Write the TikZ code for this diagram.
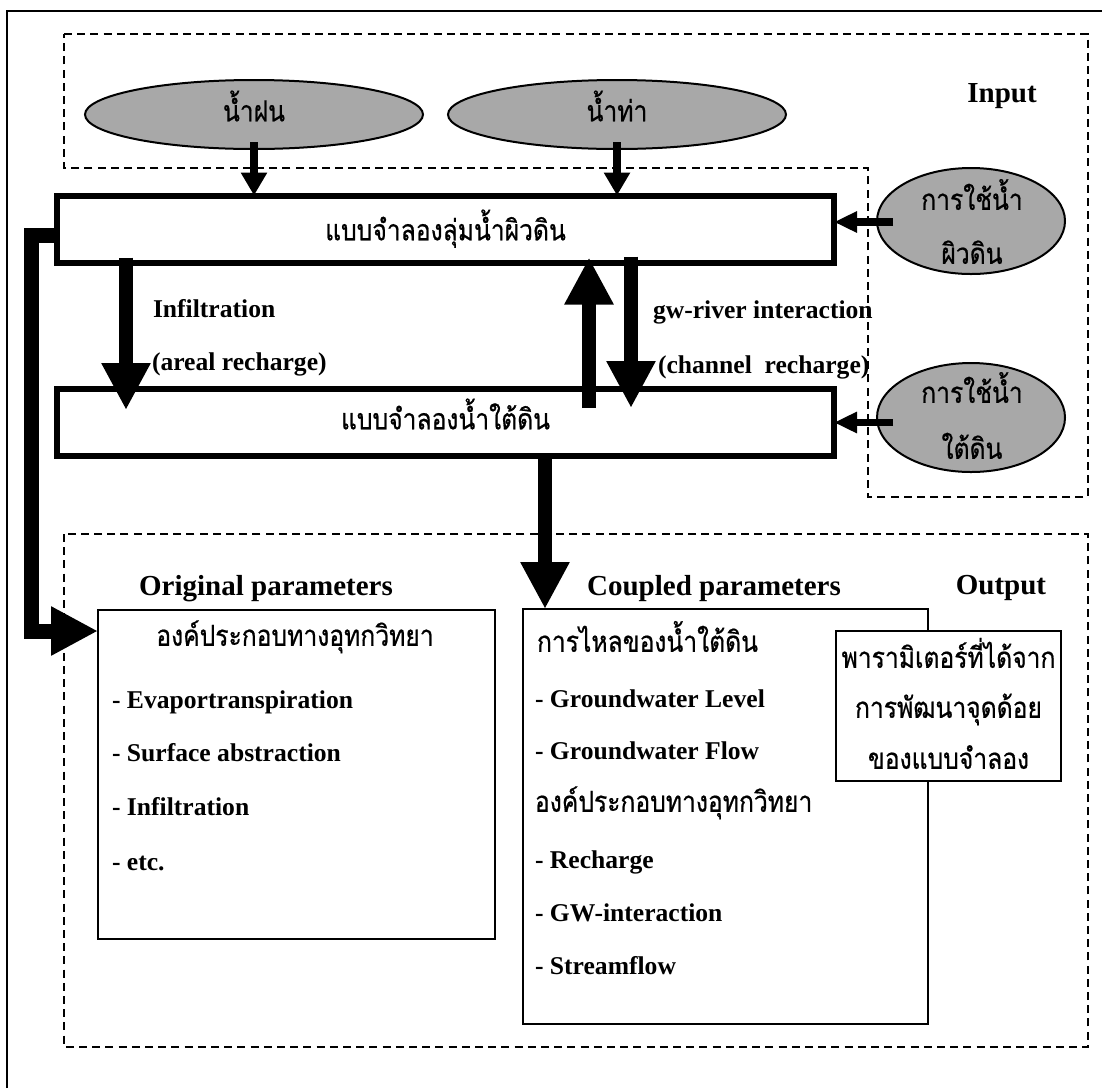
\documentclass[tikz,border=0pt]{standalone}
\usepackage{fontspec}
\setmainfont{Liberation Serif}
\newfontfamily\thaifont[Script=Thai,FakeStretch=0.85,FakeBold=0.6]{Loma}
\usetikzlibrary{arrows.meta,shapes.geometric,calc}
\definecolor{inputgray}{gray}{0.66}

\begin{document}
\begin{tikzpicture}[x=0.5pt,y=-0.5pt,
  every node/.style={inner sep=0pt,outer sep=0pt},
  region/.style={draw,line width=1pt,dash pattern=on 4pt off 2.6pt},
  source/.style={ellipse,draw,line width=1pt,fill=inputgray},
  modelbox/.style={draw,line width=3pt,minimum width=388.5pt,minimum height=33.5pt},
  parbox/.style={draw,line width=1pt},
  heading/.style={font=\fontsize{14.5}{17}\selectfont\bfseries,text height=9.6pt,text depth=0pt},
  item/.style={font=\fontsize{12.8}{15}\selectfont\bfseries,text height=8.5pt,text depth=0pt,anchor=west},
  thai/.style={font=\fontsize{14.5}{17}\selectfont\thaifont,text height=6.8pt,text depth=0pt},
  thinflow/.style={line width=4pt,-{Triangle[length=11.5pt,width=12.5pt]}},
  sideflow/.style={line width=3.8pt,-{Triangle[length=11.5pt,width=10pt]}},
  bigflow/.style={line width=7pt,line join=miter,-{Triangle[length=23.5pt,width=23pt]}},
]
\useasboundingbox (0,0) rectangle (1102,1088);
\fill[white] (0,0) rectangle (1102,1088);

% outer frame
\draw[line width=1.1pt] (7,1088) -- (7,11) -- (1102,11);

% input and output regions
\draw[region] (64,34) -- (1088,34) -- (1088,497) -- (868,497) -- (868,168) -- (64,168) -- cycle;
\draw[region] (64,534) rectangle (1088,1047);
\node[heading] (inlbl) at (1002,93) {Input};
\node[heading] (outlbl) at (1001,584.5) {Output};

% input sources
\node[source,thai,minimum width=169pt,minimum height=34.5pt] (rain) at (254,114.5) {น้ำฝน};
\node[source,thai,minimum width=169pt,minimum height=34.5pt] (runoff) at (617,114.5) {น้ำท่า};
\node[source,minimum width=94pt,minimum height=53pt] (usw) at (971,221) {};
\node[thai] (uswa) at (972,203) {การใช้น้ำ};
\node[thai] (uswb) at (972,257) {ผิวดิน};
\node[source,minimum width=94pt,minimum height=54.5pt] (ugw) at (971,417.5) {};
\node[thai] (ugwa) at (972,396) {การใช้น้ำ};
\node[thai] (ugwb) at (972,452) {ใต้ดิน};

% coupled models
\node[modelbox,thai,text height=11.3pt] (surf) at (445.5,229) {แบบจำลองลุ่มน้ำผิวดิน};
\node[modelbox,thai] (gw) at (445.5,422.5) {แบบจำลองน้ำใต้ดิน};

\node[item] (infl) at (153,309) {Infiltration};
\node[item] (areal) at (152,362) {(areal recharge)};
\node[item] (gwri) at (653,310) {gw-river interaction};
\node[item] (chan) at (658,365) {(channel\ \ recharge)};

% output parameters
\node[heading] (origlbl) at (266,585.5) {Original parameters};
\node[heading] (couplbl) at (714,585.5) {Coupled parameters};
\node[parbox,minimum width=198.5pt,minimum height=164.5pt] (orig) at (296.5,774.5) {};
\node[parbox,minimum width=202.5pt,minimum height=207.5pt] (coup) at (725.5,816.5) {};
\node[parbox,fill=white,minimum width=112.5pt,minimum height=75pt] (param) at (948.5,706) {};

\node[thai] (orighyd) at (295,639) {องค์ประกอบทางอุทกวิทยา};
\node[item] (o1) at (112,700) {- Evaportranspiration};
\node[item] (o2) at (112,753) {- Surface abstraction};
\node[item] (o3) at (112,807) {- Infiltration};
\node[item] (o4) at (112,862) {- etc.};

\node[thai,anchor=west] (c0) at (537,645) {การไหลของน้ำใต้ดิน};
\node[item] (c1) at (535,699) {- Groundwater Level};
\node[item] (c2) at (535,751) {- Groundwater Flow};
\node[thai,anchor=west] (c3) at (535,805) {องค์ประกอบทางอุทกวิทยา};
\node[item] (c4) at (535,860) {- Recharge};
\node[item] (c5) at (535,913) {- GW-interaction};
\node[item] (c6) at (535,966) {- Streamflow};

\node[thai] (p1) at (948.5,661) {พารามิเตอร์ที่ได้จาก};
\node[thai] (p2) at (948.5,711) {การพัฒนาจุดด้อย};
\node[thai] (p3) at (948.5,762) {ของแบบจำลอง};

% flows
\draw[thinflow] ($(rain.south)+(0,-7)$) -- (rain.south |- surf.north);
\draw[thinflow] ($(runoff.south)+(0,-7)$) -- (runoff.south |- surf.north);
\draw[sideflow] ($(usw.west)+(16,1)$) coordinate (us0) -- (surf.east |- us0);
\draw[sideflow] ($(ugw.west)+(16,5)$) coordinate (ug0) -- (gw.east |- ug0);
\draw[bigflow] ($(surf.south west)+(69,-5)$) -- ($(gw.north west)+(69,21)$);
\draw[bigflow] ($(gw.north west)+(532,19)$) -- ($(surf.south west)+(532,-5)$);
\draw[bigflow] ($(surf.south west)+(574,-6)$) -- ($(gw.north west)+(574,19)$);
\draw[bigflow] ($(gw.south west)+(488,0)$) -- ($(coup.north west)+(22,0)$);
\draw[bigflow,line width=7.5pt] ($(surf.west)+(0,6)$) -- ++(-25.5,0) |- ($(orig.north west)+(0,21)$);
\end{tikzpicture}
\end{document}
